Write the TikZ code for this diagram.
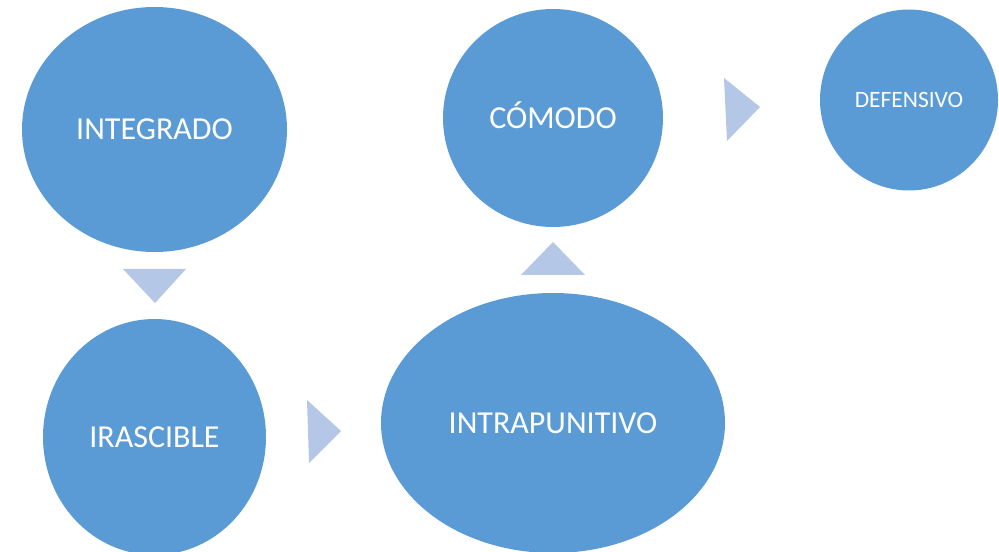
\documentclass[tikz,border=0pt]{standalone}
\usepackage{fontspec}
\setmainfont{Carlito}
\usetikzlibrary{shapes.geometric, calc, positioning}
\definecolor{circblue}{HTML}{5B9BD5}
\definecolor{arrowblue}{HTML}{B4C7E7}

\begin{document}
\begin{tikzpicture}[x=0.75pt, y=-0.75pt]
        \tikzstyle{blob}=[ellipse, fill=circblue, text=white, inner sep=0pt, text height=15.5pt, text depth=0pt, font=\fontsize{24}{28}\selectfont]
        \tikzstyle{chevron}=[fill=arrowblue]

        % Frame of the page
        \useasboundingbox (0,0) rectangle (999,552);

        % Stages
        \node[blob, minimum width=198.75pt, minimum height=183.75pt] (integ) at (154.5,129.5) {INTEGRADO};
        \node[blob, minimum width=167.25pt, minimum height=177pt] (irasc) at (154.5,437) {IRASCIBLE};
        \node[blob, minimum width=258pt, minimum height=195pt] (intra) at (553,423) {INTRAPUNITIVO};
        \node[blob, minimum width=165pt, minimum height=163.5pt] (comod) at (553,118) {CÓMODO};
        \node[blob, minimum width=133.5pt, minimum height=135.75pt, text height=11.3pt, font=\fontsize{17.6}{20}\selectfont] (defen) at (909,100) {DEFENSIVO};

        % Arrow heads between the stages
        \fill[chevron] (123,269) -- (186,269) -- (155,303) -- cycle;
        \fill[chevron] (307,400) -- (309,463) -- (341,431) -- cycle;
        \fill[chevron] (521,275) -- (585,275) -- (553,242) -- cycle;
        \fill[chevron] (724,78) -- (727,141) -- (760,107) -- cycle;
    \end{tikzpicture}
\end{document}
